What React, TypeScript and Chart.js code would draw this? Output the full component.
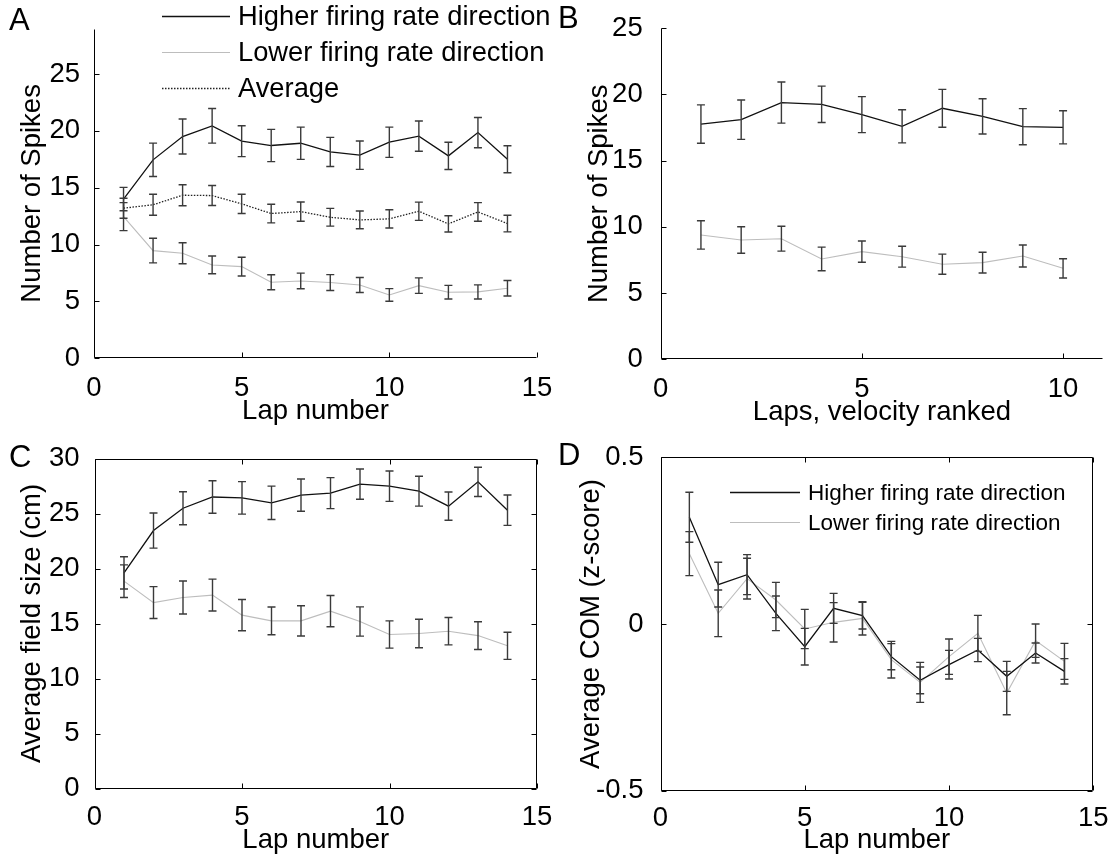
import React, { useEffect, useRef } from "react";
import { Chart, registerables } from "chart.js";

Chart.register(...registerables);

const FONT = '"Liberation Sans", Arial, Helvetica, sans-serif';
const PAGE_W = 1112;
const PAGE_H = 862;

// ---- Panel A: spikes per lap, split by running direction ----
const lapsA = [1, 2, 3, 4, 5, 6, 7, 8, 9, 10, 11, 12, 13, 14];
const higherA = [14.0, 17.45, 19.5, 20.44, 19.09, 18.71, 18.91, 18.15, 17.86, 19.0, 19.53, 17.8, 19.85, 17.5];
const higherErrA = [1.03, 1.47, 1.54, 1.52, 1.36, 1.42, 1.42, 1.28, 1.25, 1.33, 1.33, 1.2, 1.33, 1.19];
const lowerA = [12.46, 9.47, 9.24, 8.21, 8.06, 6.69, 6.8, 6.66, 6.45, 5.57, 6.39, 5.81, 5.84, 6.16];
const lowerErrA = [1.23, 1.08, 0.92, 0.78, 0.82, 0.66, 0.69, 0.7, 0.66, 0.56, 0.68, 0.6, 0.62, 0.68];
const averageA = [13.2, 13.5, 14.34, 14.31, 13.58, 12.73, 12.9, 12.4, 12.17, 12.26, 12.93, 11.82, 12.87, 11.85];
const averageErrA = [0.88, 0.92, 0.92, 0.88, 0.85, 0.82, 0.85, 0.78, 0.78, 0.8, 0.8, 0.72, 0.82, 0.73];
const xTicksA = [0, 5, 10, 15];
const yTicksA = [0, 5, 10, 15, 20, 25];

// ---- Panel B: spikes per lap, laps ranked by velocity ----
const lapsB = [1, 2, 3, 4, 5, 6, 7, 8, 9, 10];
const higherB = [17.77, 18.1, 19.39, 19.26, 18.48, 17.6, 18.96, 18.35, 17.57, 17.52];
const higherErrB = [1.45, 1.49, 1.55, 1.37, 1.36, 1.25, 1.43, 1.33, 1.36, 1.25];
const lowerB = [9.39, 9.01, 9.11, 7.58, 8.13, 7.75, 7.18, 7.3, 7.8, 6.87];
const lowerErrB = [1.07, 1.0, 0.94, 0.89, 0.8, 0.79, 0.76, 0.78, 0.83, 0.73];
const xTicksB = [0, 5, 10];
const yTicksB = [0, 5, 10, 15, 20, 25];

// ---- Panel C: average place field size ----
const lapsC = [1, 2, 3, 4, 5, 6, 7, 8, 9, 10, 11, 12, 13, 14];
const higherC = [19.6, 23.45, 25.48, 26.5, 26.42, 25.97, 26.67, 26.85, 27.67, 27.48, 27.03, 25.67, 27.88, 25.3];
const higherErrC = [1.47, 1.6, 1.5, 1.48, 1.48, 1.52, 1.47, 1.41, 1.38, 1.38, 1.36, 1.29, 1.33, 1.38];
const lowerC = [18.85, 16.9, 17.36, 17.58, 15.76, 15.24, 15.24, 16.12, 15.18, 14.0, 14.09, 14.3, 13.9, 12.97];
const lowerErrC = [1.48, 1.45, 1.5, 1.45, 1.42, 1.26, 1.38, 1.42, 1.33, 1.24, 1.29, 1.24, 1.26, 1.23];
const xTicksC = [0, 5, 10, 15];
const yTicksC = [0, 5, 10, 15, 20, 25, 30];

// ---- Panel D: average centre of mass (z-score) ----
const lapsD = [1, 2, 3, 4, 5, 6, 7, 8, 9, 10, 11, 12, 13, 14];
const higherD = [0.32, 0.118, 0.148, 0.032, -0.068, 0.047, 0.025, -0.098, -0.169, -0.122, -0.078, -0.157, -0.087, -0.142];
const higherErrD = [0.075, 0.067, 0.06, 0.052, 0.055, 0.045, 0.04, 0.039, 0.04, 0.043, 0.035, 0.045, 0.03, 0.038];
const lowerD = [0.211, 0.032, 0.136, 0.072, -0.015, 0.005, 0.017, -0.107, -0.175, -0.098, -0.028, -0.207, -0.05, -0.112];
const lowerErrD = [0.066, 0.07, 0.061, 0.053, 0.059, 0.059, 0.05, 0.055, 0.06, 0.053, 0.054, 0.065, 0.05, 0.054];
const xTicksD = [0, 5, 10, 15];
const yTicksD = [-0.5, 0, 0.5];

const HIGHER_LABEL = "Higher firing rate direction";
const LOWER_LABEL = "Lower firing rate direction";
const AVERAGE_LABEL = "Average";

type Series = {
  label: string;
  values: number[];
  errors: number[];
  color: string;
  width: number;
  dash?: number[];
  errColor: string;
};

type Panel = {
  laps: number[];
  series: Series[];
  xMin: number;
  xMax: number;
  yMin: number;
  yMax: number;
  xTicks: number[];
  yTicks: number[];
  xTitle: string;
  yTitle: string;
  area: { l: number; t: number; r: number; b: number };
  yW: number;
  xH: number;
  yPad: number;
  xPad: number;
  box: boolean;
  letter: { text: string; x: number; y: number };
  legend?: { x0: number; x1: number; tx: number; y0: number; dy: number; size: number };
};

const BLACK = "#111111";
const GREY = "#bdbdbd";
const ERR = "#3a3a3a";

const higher = (values: number[], errors: number[]): Series => ({
  label: HIGHER_LABEL, values, errors, color: BLACK, width: 1.3, errColor: ERR,
});
const lower = (values: number[], errors: number[]): Series => ({
  label: LOWER_LABEL, values, errors, color: GREY, width: 1.1, errColor: ERR,
});

const panels: Panel[] = [
  {
    laps: lapsA,
    series: [
      higher(higherA, higherErrA),
      lower(lowerA, lowerErrA),
      { label: AVERAGE_LABEL, values: averageA, errors: averageErrA, color: "#222222", width: 1.3, dash: [1.5, 1.5], errColor: ERR },
    ],
    xMin: 0, xMax: 15, yMin: 0, yMax: 29,
    xTicks: xTicksA, yTicks: yTicksA,
    xTitle: "Lap number", yTitle: "Number of Spikes",
    area: { l: 94, t: 28.5, r: 537, b: 358.3 },
    yW: 78, xH: 70, yPad: 6, xPad: 6, box: false,
    letter: { text: "A", x: 9, y: 30 },
    legend: { x0: 162, x1: 230, tx: 238, y0: 15.5, dy: 36, size: 27.3 },
  },
  {
    laps: lapsB,
    series: [higher(higherB, higherErrB), lower(lowerB, lowerErrB)],
    xMin: 0, xMax: 11, yMin: 0, yMax: 25,
    xTicks: xTicksB, yTicks: yTicksB,
    xTitle: "Laps, velocity ranked", yTitle: "Number of Spikes",
    area: { l: 660.7, t: 28.3, r: 1103.3, b: 359.3 },
    yW: 78, xH: 70, yPad: 10, xPad: 6, box: false,
    letter: { text: "B", x: 558, y: 28 },
  },
  {
    laps: lapsC,
    series: [higher(higherC, higherErrC), lower(lowerC, lowerErrC)],
    xMin: 0, xMax: 15, yMin: 0, yMax: 30,
    xTicks: xTicksC, yTicks: yTicksC,
    xTitle: "Lap number", yTitle: "Average field size (cm)",
    area: { l: 94.5, t: 458.5, r: 537, b: 788.5 },
    yW: 78.5, xH: 68, yPad: 7, xPad: 4, box: true,
    letter: { text: "C", x: 9, y: 467 },
  },
  {
    laps: lapsD,
    series: [higher(higherD, higherErrD), lower(lowerD, lowerErrD)],
    xMin: 0, xMax: 15, yMin: -0.5, yMax: 0.5,
    xTicks: xTicksD, yTicks: yTicksD,
    xTitle: "Lap number", yTitle: "Average COM (z-score)",
    area: { l: 660.5, t: 457.3, r: 1093.3, b: 790.7 },
    yW: 85.5, xH: 66, yPad: 9, xPad: 3, box: true,
    letter: { text: "D", x: 558, y: 465 },
    legend: { x0: 730, x1: 800, tx: 808, y0: 492, dy: 30, size: 22.5 },
  },
];

const TICK_FONT = { family: FONT, size: 27.5 };
const TITLE_FONT = { family: FONT, size: 27.5 };
const LETTER_SIZE = 31;
const CAP = 4;
const TICK_LEN = 5;

function framePlugin(p: Panel) {
  return {
    id: "frame" + p.letter.text,
    afterDatasetsDraw(chart: any) {
      const ctx: CanvasRenderingContext2D = chart.ctx;
      const xs = chart.scales.x;
      const ys = chart.scales.y;

      // error bars with caps
      ctx.save();
      p.series.forEach((s) => {
        ctx.strokeStyle = s.errColor;
        ctx.lineWidth = 1.4;
        ctx.setLineDash([]);
        p.laps.forEach((lap, i) => {
          const x = xs.getPixelForValue(lap);
          const y1 = ys.getPixelForValue(s.values[i] + s.errors[i]);
          const y2 = ys.getPixelForValue(s.values[i] - s.errors[i]);
          ctx.beginPath();
          ctx.moveTo(x, y1);
          ctx.lineTo(x, y2);
          ctx.moveTo(x - CAP, y1);
          ctx.lineTo(x + CAP, y1);
          ctx.moveTo(x - CAP, y2);
          ctx.lineTo(x + CAP, y2);
          ctx.stroke();
        });
      });
      ctx.restore();

      // axis lines and inward ticks
      const { left, right, top, bottom } = chart.chartArea;
      const L = Math.round(left) + 0.5;
      const R = Math.round(right) - 0.5;
      const T = Math.round(top) + 0.5;
      const B = Math.round(bottom) - 0.5;
      ctx.save();
      ctx.strokeStyle = "#000";
      ctx.lineWidth = 1;
      ctx.setLineDash([]);
      ctx.beginPath();
      ctx.moveTo(L, T);
      ctx.lineTo(L, B);
      ctx.lineTo(R, B);
      if (p.box) {
        ctx.lineTo(R, T);
        ctx.lineTo(L, T);
      }
      p.xTicks.forEach((v) => {
        const x = Math.round(xs.getPixelForValue(v)) + 0.5;
        ctx.moveTo(x, B);
        ctx.lineTo(x, B - TICK_LEN);
        if (p.box) {
          ctx.moveTo(x, T);
          ctx.lineTo(x, T + TICK_LEN);
        }
      });
      p.yTicks.forEach((v) => {
        const y = Math.round(ys.getPixelForValue(v)) + 0.5;
        ctx.moveTo(L, y);
        ctx.lineTo(L + TICK_LEN, y);
        if (p.box) {
          ctx.moveTo(R, y);
          ctx.lineTo(R - TICK_LEN, y);
        }
      });
      ctx.stroke();
      ctx.restore();

      // legend
      if (p.legend) {
        const lg = p.legend;
        ctx.save();
        ctx.textBaseline = "middle";
        ctx.textAlign = "left";
        ctx.fillStyle = "#000";
        ctx.font = `${lg.size}px ${FONT}`;
        p.series.forEach((s, i) => {
          const y = Math.round(lg.y0 + i * lg.dy) + 0.5;
          ctx.strokeStyle = s.color;
          ctx.lineWidth = s.width;
          ctx.setLineDash(s.dash ?? []);
          ctx.beginPath();
          ctx.moveTo(lg.x0, y);
          ctx.lineTo(lg.x1, y);
          ctx.stroke();
          ctx.fillText(s.label, lg.tx, y + 1);
        });
        ctx.restore();
      }

      // panel letter
      ctx.save();
      ctx.fillStyle = "#000";
      ctx.font = `${LETTER_SIZE}px ${FONT}`;
      ctx.textBaseline = "alphabetic";
      ctx.textAlign = "left";
      ctx.fillText(p.letter.text, p.letter.x, p.letter.y);
      ctx.restore();
    },
  };
}

function buildChart(canvas: HTMLCanvasElement, p: Panel) {
  const fmt = (v: any) => String(v);
  return new Chart(canvas, {
    type: "line",
    data: {
      datasets: p.series.map((s) => ({
        label: s.label,
        data: p.laps.map((x, i) => ({ x, y: s.values[i] })),
        borderColor: s.color,
        borderWidth: s.width,
        borderDash: s.dash ?? [],
        pointRadius: 0,
        fill: false,
        tension: 0,
      })),
    },
    options: {
      animation: false,
      responsive: false,
      events: [],
      layout: {
        padding: {
          left: p.area.l - p.yW,
          top: p.area.t,
          right: PAGE_W - p.area.r,
          bottom: PAGE_H - p.area.b - p.xH,
        },
      },
      plugins: { legend: { display: false }, tooltip: { enabled: false } },
      scales: {
        x: {
          type: "linear",
          min: p.xMin,
          max: p.xMax,
          grid: { display: false },
          border: { display: false },
          ticks: { font: TICK_FONT, color: "#000", padding: p.xPad, maxRotation: 0, autoSkip: false, callback: fmt },
          title: { display: true, text: p.xTitle, font: TITLE_FONT, color: "#000", padding: 0 },
          afterBuildTicks: (s: any) => {
            s.ticks = p.xTicks.map((v) => ({ value: v }));
          },
          afterFit: (s: any) => {
            s.height = p.xH;
            s.paddingLeft = 0;
            s.paddingRight = 0;
          },
        },
        y: {
          type: "linear",
          min: p.yMin,
          max: p.yMax,
          grid: { display: false },
          border: { display: false },
          ticks: { font: TICK_FONT, color: "#000", padding: p.yPad, autoSkip: false, callback: fmt },
          title: { display: true, text: p.yTitle, font: TITLE_FONT, color: "#000", padding: 0 },
          afterBuildTicks: (s: any) => {
            s.ticks = p.yTicks.map((v) => ({ value: v }));
          },
          afterFit: (s: any) => {
            s.width = p.yW;
            s.paddingTop = 0;
            s.paddingBottom = 0;
          },
        },
      },
    } as any,
    plugins: [framePlugin(p)],
  });
}

function PanelCanvas({ panel }: { panel: Panel }) {
  const ref = useRef<HTMLCanvasElement | null>(null);
  useEffect(() => {
    if (!ref.current) return;
    const chart = buildChart(ref.current, panel);
    return () => chart.destroy();
  }, [panel]);
  return (
    <canvas
      ref={ref}
      width={PAGE_W}
      height={PAGE_H}
      style={{ position: "absolute", left: 0, top: 0, width: PAGE_W, height: PAGE_H }}
    />
  );
}

export default function App() {
  return (
    <div
      style={{
        position: "absolute",
        left: 0,
        top: 0,
        width: PAGE_W,
        height: PAGE_H,
        background: "#ffffff",
        overflow: "hidden",
      }}
    >
      {panels.map((p) => (
        <PanelCanvas key={p.letter.text} panel={p} />
      ))}
    </div>
  );
}
